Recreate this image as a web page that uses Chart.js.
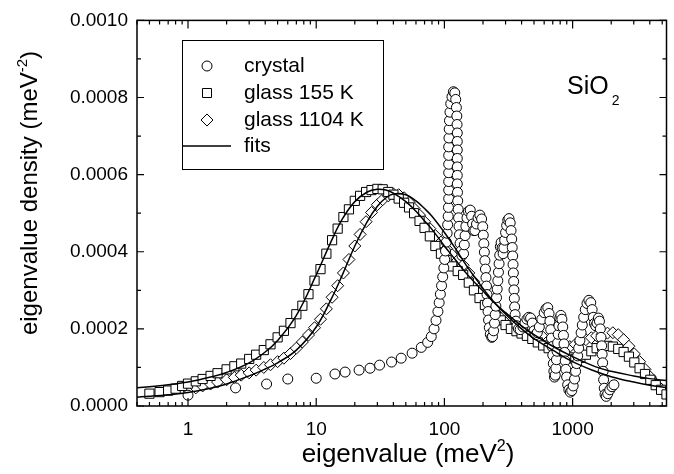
<!DOCTYPE html>
<html>
<head>
<meta charset="utf-8">
<script src="https://cdn.jsdelivr.net/npm/chart.js@4.4.1/dist/chart.umd.min.js"></script>
<style>
html, body { margin: 0; padding: 0; background: #fff; }
canvas { display: block; }
</style>
</head>
<body>
<canvas id="dosChart" width="674" height="474"></canvas>
<script>
// Values. Densities are in units of 1e-4 meV^-2.
const DENSITY_UNIT = 1e-4;

const xTicks = [1, 10, 100, 1000];
const yTicks = [0, 0.0002, 0.0004, 0.0006, 0.0008, 0.0010];

// crystal (circles)
const crystalX = [1.0, 2.35, 4.1, 6.0, 10, 14, 16.8, 21.6, 26.3, 31.2, 38.7, 46, 56, 66, 74, 79, 83, 86, 89, 91,
    93, 95, 97, 99, 100.5, 102, 103.5, 105, 106, 107, 107.5, 108, 108, 108, 108, 108, 108, 108, 108.5, 109,
    109.5, 110.5, 112, 114.5, 117.5, 120.5, 122.5, 124, 125, 125.5, 126, 126, 126, 126, 126, 126, 126, 126.5, 127, 128,
    129, 130, 131, 132.5, 134.5, 137, 141, 143, 145, 147, 150, 154, 159, 163, 166, 169, 173, 178, 183, 189,
    195, 199, 201, 203, 205, 207, 209, 211, 213, 215, 217, 219, 221, 224, 228, 234, 237, 242, 246, 249,
    252, 255, 258, 261, 264, 267, 270, 273, 277, 282, 287, 291, 295, 300, 306, 312, 319, 326, 331, 335,
    338, 341, 343, 345, 347, 349, 351, 353, 356, 361, 368, 378, 390, 410, 425, 440, 455, 470, 485, 500,
    515, 530, 550, 575, 600, 620, 640, 655, 665, 675, 684, 692, 700, 707, 714, 722, 732, 740, 748, 756,
    764, 772, 782, 795, 810, 825, 838, 848, 857, 866, 875, 885, 898, 915, 935, 960, 985, 1010, 1035, 1055,
    1075, 1095, 1115, 1140, 1165, 1190, 1220, 1255, 1295, 1340, 1385, 1420, 1450, 1480, 1515, 1550, 1590, 1620, 1645, 1665,
    1685, 1700, 1715, 1730, 1745, 1765, 1790, 1830, 1880, 1950, 2030, 2100];
const crystalY = [0.28, 0.47, 0.57, 0.70, 0.72, 0.83, 0.88, 0.93, 0.98, 1.06, 1.14, 1.24, 1.37, 1.52, 1.65, 1.80, 2.00, 2.22, 2.45, 2.68,
    2.90, 3.12, 3.35, 3.58, 3.80, 4.02, 4.25, 4.48, 4.70, 4.92, 5.15, 5.38, 5.60, 5.82, 6.05, 6.27, 6.50, 6.72, 6.95, 7.18,
    7.40, 7.62, 7.84, 8.02, 8.15, 8.12, 7.95, 7.74, 7.52, 7.30, 7.08, 6.86, 6.64, 6.42, 6.20, 5.98, 5.76, 5.54, 5.32, 5.10,
    4.88, 4.66, 4.44, 4.22, 4.02, 3.90, 3.95, 4.18, 4.42, 4.66, 4.88, 5.05, 5.08, 4.92, 4.72, 4.55, 4.55, 4.72, 4.88, 4.95,
    4.85, 4.65, 4.43, 4.21, 3.99, 3.77, 3.55, 3.33, 3.11, 2.89, 2.67, 2.45, 2.23, 2.03, 1.86, 1.78, 1.80, 1.95, 2.15, 2.37,
    2.59, 2.81, 3.03, 3.25, 3.47, 3.69, 3.91, 4.13, 4.24, 4.10, 3.95, 4.10, 4.30, 4.50, 4.68, 4.82, 4.86, 4.75, 4.55, 4.33,
    4.11, 3.89, 3.67, 3.45, 3.23, 3.01, 2.79, 2.57, 2.37, 2.20, 2.08, 2.00, 1.98, 2.05, 2.15, 2.25, 2.30, 2.28, 2.15, 1.95,
    1.85, 1.90, 2.05, 2.25, 2.42, 2.52, 2.55, 2.40, 2.20, 1.98, 1.76, 1.54, 1.32, 1.10, 0.90, 0.75, 0.80, 0.98, 1.20, 1.42,
    1.64, 1.86, 2.08, 2.28, 2.35, 2.25, 2.05, 1.83, 1.61, 1.39, 1.17, 0.95, 0.75, 0.55, 0.42, 0.36, 0.40, 0.52, 0.70, 0.90,
    1.10, 1.30, 1.50, 1.70, 1.90, 2.10, 2.30, 2.50, 2.66, 2.74, 2.68, 2.50, 2.30, 2.14, 2.08, 2.15, 2.28, 2.20, 2.00, 1.78,
    1.56, 1.34, 1.12, 0.90, 0.68, 0.46, 0.30, 0.25, 0.32, 0.42, 0.50, 0.55];

// glass 155 K (squares)
const glass155X = [0.5, 0.6, 0.7, 0.8, 0.9, 1.0, 1.15, 1.3, 1.5, 1.7, 2.0, 2.3, 2.6, 3.0, 3.4, 3.9, 4.4, 5.0, 5.6, 6.3,
    7.0, 7.8, 8.7, 9.7, 10.8, 12, 13.3, 14.7, 16.3, 18, 20, 22, 24.5, 27, 30, 33, 36.5, 40, 44, 48.5,
    53, 58, 64, 70, 77, 85, 94, 104, 115, 127, 140, 155, 170, 188, 207, 228, 250, 275, 300, 330,
    365, 400, 440, 485, 535, 590, 650, 715, 785, 865, 950, 1050, 1150, 1270, 1400, 1540, 1700, 1870, 2060, 2270,
    2500, 2750, 3030, 3330, 3670, 4040, 4450, 4900, 5400];
const glass155Y = [0.32, 0.36, 0.40, 0.45, 0.52, 0.58, 0.64, 0.70, 0.78, 0.85, 0.95, 1.03, 1.10, 1.22, 1.33, 1.45, 1.60, 1.78, 1.95, 2.15,
    2.38, 2.60, 2.90, 3.25, 3.55, 3.95, 4.30, 4.60, 4.90, 5.10, 5.32, 5.45, 5.55, 5.60, 5.63, 5.62, 5.55, 5.48, 5.38, 5.27,
    5.15, 5.00, 4.80, 4.62, 4.40, 4.15, 3.95, 3.78, 3.62, 3.50, 3.40, 3.20, 3.00, 2.80, 2.62, 2.48, 2.35, 2.22, 2.10, 2.00,
    1.94, 1.88, 1.82, 1.74, 1.65, 1.57, 1.50, 1.43, 1.38, 1.32, 1.26, 1.22, 1.25, 1.33, 1.42, 1.50, 1.55, 1.56, 1.54, 1.48,
    1.40, 1.28, 1.13, 0.98, 0.83, 0.68, 0.54, 0.42, 0.30];

// glass 1104 K (diamonds)
const glass1104X = [1.0, 1.15, 1.3, 1.5, 1.7, 2.0, 2.3, 2.6, 3.0, 3.4, 3.9, 4.4, 5.0, 5.6, 6.3, 7.0, 7.8, 8.7, 9.7, 10.8,
    12, 13.3, 14.7, 16.3, 18, 20, 22, 24.5, 27, 30, 33, 36.5, 40, 44, 48.5, 53, 58, 64, 70, 77,
    85, 94, 104, 115, 127, 140, 155, 170, 188, 207, 228, 250, 275, 300, 330, 365, 400, 440, 485, 535,
    590, 650, 715, 785, 865, 950, 1050, 1150, 1270, 1400, 1540, 1700, 1870, 2060, 2270, 2500, 2750, 3030, 3330, 3670,
    4040, 4450, 4900, 5400];
const glass1104Y = [0.42, 0.47, 0.52, 0.57, 0.62, 0.68, 0.74, 0.80, 0.86, 0.93, 1.00, 1.07, 1.15, 1.24, 1.36, 1.50, 1.66, 1.84, 2.03, 2.25,
    2.52, 2.82, 3.12, 3.45, 3.80, 4.15, 4.45, 4.78, 5.02, 5.22, 5.35, 5.45, 5.50, 5.48, 5.40, 5.28, 5.12, 4.95, 4.78, 4.60,
    4.42, 4.25, 4.08, 3.92, 3.78, 3.65, 3.45, 3.22, 2.98, 2.78, 2.58, 2.42, 2.28, 2.16, 2.06, 1.98, 1.92, 1.86, 1.82, 1.80,
    1.78, 1.70, 1.58, 1.50, 1.50, 1.54, 1.60, 1.66, 1.72, 1.77, 1.82, 1.86, 1.89, 1.90, 1.85, 1.72, 1.55, 1.35, 1.15, 0.95,
    0.75, 0.58, 0.44, 0.32];

// fit curves
const fitX = [0.4, 0.5, 0.7, 1, 1.5, 2, 3, 4, 5, 7, 10, 13, 16, 20, 25, 30, 35, 40, 50, 60,
    70, 80, 100, 120, 150, 200, 250, 300, 400, 500, 700, 1000, 1500, 2000, 3000, 4000, 5400];
const fit155Y = [0.47, 0.50, 0.55, 0.62, 0.75, 0.87, 1.12, 1.40, 1.70, 2.35, 3.40, 4.25, 4.85, 5.30, 5.55, 5.62, 5.60, 5.52, 5.30, 5.05,
    4.80, 4.58, 4.15, 3.82, 3.42, 2.98, 2.65, 2.42, 2.08, 1.85, 1.55, 1.28, 1.02, 0.90, 0.78, 0.71, 0.66];
const fit1104Y = [0.23, 0.25, 0.29, 0.35, 0.46, 0.57, 0.78, 0.96, 1.12, 1.45, 2.05, 2.75, 3.40, 4.15, 4.78, 5.18, 5.40, 5.50, 5.48, 5.32,
    5.12, 4.92, 4.50, 4.12, 3.62, 3.05, 2.65, 2.38, 2.00, 1.75, 1.45, 1.15, 0.90, 0.76, 0.62, 0.54, 0.48];

const FONT = "'Liberation Sans', Arial, Helvetica, sans-serif";

function toPoints(xs, ys) {
    return xs.map(function(x, i) { return { x: x, y: ys[i] * DENSITY_UNIT }; });
}

// text made of parts, each with its own size, vertical shift and gap before it
function drawRichText(ctx, parts, x, y) {
    let cx = x;
    parts.forEach(function(p) {
        cx += p.gap || 0;
        ctx.font = p.size + 'px ' + FONT;
        ctx.fillText(p.text, cx, y + (p.shift || 0));
        cx += ctx.measureText(p.text).width;
    });
}

function measureRichText(ctx, parts) {
    let w = 0;
    parts.forEach(function(p) {
        ctx.font = p.size + 'px ' + FONT;
        w += (p.gap || 0) + ctx.measureText(p.text).width;
    });
    return w;
}

function drawMarker(ctx, style, x, y) {
    ctx.beginPath();
    if (style === 'circle') {
        ctx.arc(x, y, 5, 0, Math.PI * 2);
    } else if (style === 'rect') {
        ctx.rect(x - 4.5, y - 4.5, 9, 9);
    } else {
        ctx.moveTo(x, y - 6);
        ctx.lineTo(x + 6, y);
        ctx.lineTo(x, y + 6);
        ctx.lineTo(x - 6, y);
        ctx.closePath();
    }
    ctx.fillStyle = '#fff';
    ctx.fill();
    ctx.strokeStyle = '#000';
    ctx.lineWidth = 1;
    ctx.stroke();
}

const framePlugin = {
    id: 'frame',
    afterDraw: function(chart) {
        const ctx = chart.ctx;
        const a = chart.chartArea;
        const xs = chart.scales.x;
        const ys = chart.scales.y;
        ctx.save();
        ctx.strokeStyle = '#000';
        ctx.lineWidth = 1.5;
        ctx.strokeRect(a.left, a.top, a.right - a.left, a.bottom - a.top);

        // inward ticks, log x
        ctx.lineWidth = 1.2;
        ctx.beginPath();
        [0.1, 1, 10, 100, 1000].forEach(function(dec) {
            for (let k = 1; k <= 9; k++) {
                const v = dec * k;
                if (v < xs.min || v > xs.max) continue;
                const px = xs.getPixelForValue(v);
                const len = k === 1 ? 8 : 4;
                ctx.moveTo(px, a.bottom);
                ctx.lineTo(px, a.bottom - len);
                ctx.moveTo(px, a.top);
                ctx.lineTo(px, a.top + len);
            }
        });
        // inward ticks, y every 0.0001
        for (let i = 0; i <= 10; i++) {
            const py = ys.getPixelForValue(i * 0.0001);
            const len = i % 2 === 0 ? 7 : 4;
            ctx.moveTo(a.left, py);
            ctx.lineTo(a.left + len, py);
            ctx.moveTo(a.right, py);
            ctx.lineTo(a.right - len, py);
        }
        ctx.stroke();

        ctx.fillStyle = '#000';
        ctx.textBaseline = 'alphabetic';
        ctx.textAlign = 'left';

        // x title
        const xParts = [{ text: 'eigenvalue (meV', size: 26 }, { text: '2', size: 16, shift: -11 }, { text: ')', size: 26 }];
        const xw = measureRichText(ctx, xParts);
        drawRichText(ctx, xParts, 408 - xw / 2, 462);

        // y title, rotated
        const yParts = [{ text: 'eigenvalue density (meV', size: 24 }, { text: '-2', size: 15, shift: -10 }, { text: ')', size: 24 }];
        const yw = measureRichText(ctx, yParts);
        ctx.save();
        ctx.translate(37, 193);
        ctx.rotate(-Math.PI / 2);
        drawRichText(ctx, yParts, -yw / 2, 0);
        ctx.restore();

        // SiO2 label
        drawRichText(ctx, [{ text: 'SiO', size: 25 }, { text: '2', size: 14, shift: 11, gap: 3 }], 567, 94);

        // legend
        ctx.lineWidth = 1;
        ctx.strokeStyle = '#000';
        ctx.strokeRect(182.5, 40.5, 201, 129);
        const rows = [
            { label: 'crystal', style: 'circle', y: 66 },
            { label: 'glass 155 K', style: 'rect', y: 93 },
            { label: 'glass 1104 K', style: 'diamond', y: 120 },
            { label: 'fits', style: 'line', y: 146 }
        ];
        rows.forEach(function(r) {
            if (r.style === 'line') {
                ctx.beginPath();
                ctx.lineWidth = 1.5;
                ctx.moveTo(183, r.y);
                ctx.lineTo(231, r.y);
                ctx.stroke();
            } else {
                drawMarker(ctx, r.style, 207, r.y);
            }
            ctx.fillStyle = '#000';
            ctx.font = '21px ' + FONT;
            ctx.textBaseline = 'middle';
            ctx.fillText(r.label, 244, r.y);
        });
        ctx.restore();
    }
};

const markerBase = {
    showLine: false,
    backgroundColor: '#fff',
    borderColor: '#000',
    pointBorderWidth: 1,
    pointHoverRadius: 0
};

new Chart(document.getElementById('dosChart'), {
    type: 'scatter',
    data: {
        datasets: [
            {
                label: 'fit 155 K',
                data: toPoints(fitX, fit155Y),
                showLine: true,
                borderColor: '#000',
                borderWidth: 1.5,
                pointRadius: 0,
                tension: 0.4
            },
            {
                label: 'fit 1104 K',
                data: toPoints(fitX, fit1104Y),
                showLine: true,
                borderColor: '#000',
                borderWidth: 1.5,
                pointRadius: 0,
                tension: 0.4
            },
            Object.assign({}, markerBase, {
                label: 'crystal',
                data: toPoints(crystalX, crystalY),
                pointStyle: 'circle',
                pointRadius: 5
            }),
            Object.assign({}, markerBase, {
                label: 'glass 155 K',
                data: toPoints(glass155X, glass155Y),
                pointStyle: 'rect',
                pointRadius: 6.5
            }),
            Object.assign({}, markerBase, {
                label: 'glass 1104 K',
                data: toPoints(glass1104X, glass1104Y),
                pointStyle: 'rectRot',
                pointRadius: 6
            })
        ]
    },
    options: {
        responsive: false,
        animation: false,
        layout: { padding: { top: 19, right: 1, left: 0, bottom: 0 } },
        plugins: {
            legend: { display: false },
            tooltip: { enabled: false }
        },
        scales: {
            x: {
                type: 'logarithmic',
                min: 0.4,
                max: 5400,
                grid: { display: false, drawTicks: false },
                border: { display: false },
                afterBuildTicks: function(scale) {
                    scale.ticks = xTicks.map(function(v) { return { value: v }; });
                },
                afterFit: function(scale) { scale.height = 68; },
                ticks: {
                    autoSkip: false,
                    maxRotation: 0,
                    padding: 12,
                    color: '#000',
                    font: { family: FONT, size: 19 },
                    callback: function(v) { return String(v); }
                }
            },
            y: {
                min: 0,
                max: 0.001,
                grid: { display: false, drawTicks: false },
                border: { display: false },
                afterBuildTicks: function(scale) {
                    scale.ticks = yTicks.map(function(v) { return { value: v }; });
                },
                afterFit: function(scale) { scale.width = 137; },
                ticks: {
                    padding: 9,
                    color: '#000',
                    font: { family: FONT, size: 19 },
                    callback: function(v) { return v.toFixed(4); }
                }
            }
        }
    },
    plugins: [framePlugin]
});
</script>
</body>
</html>
